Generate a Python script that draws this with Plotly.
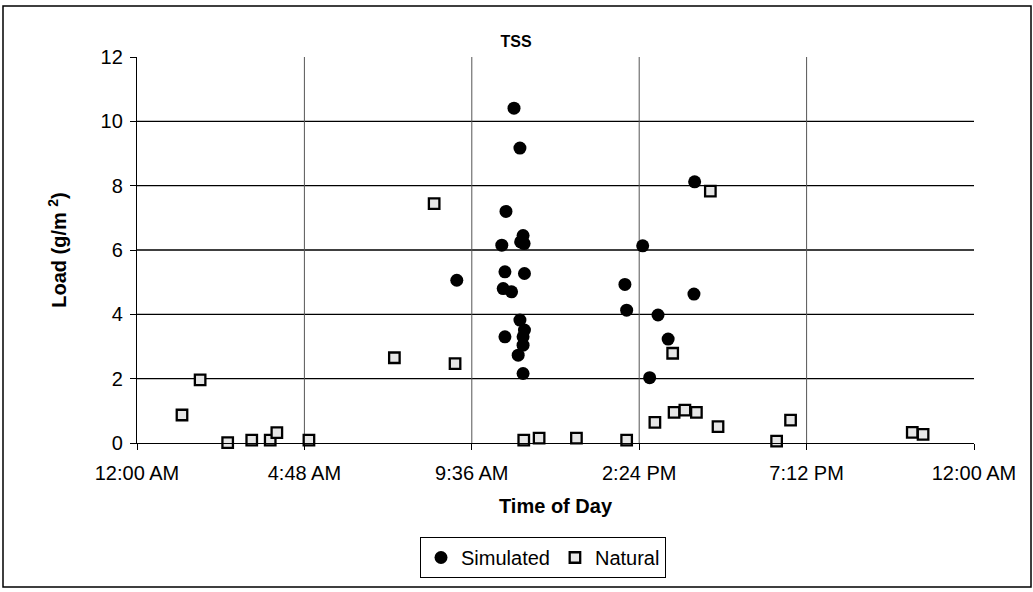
import plotly.graph_objects as go

# Time of day in decimal hours, load in g/m^2
sim_hours = [9.17, 10.81, 10.98, 10.58, 10.46, 11.00, 11.07, 11.10, 10.55, 11.11,
             10.50, 10.74, 10.98, 11.11, 11.07, 10.55, 11.07, 10.93, 11.07,
             13.99, 14.04, 14.50, 14.70, 14.94, 15.23, 15.97, 15.99]
sim_load = [5.06, 10.41, 9.17, 7.20, 6.15, 6.25, 6.45, 6.20, 5.32, 5.27,
            4.80, 4.70, 3.82, 3.51, 3.30, 3.30, 3.04, 2.73, 2.16,
            4.93, 4.13, 6.13, 2.03, 3.98, 3.23, 4.63, 8.12]

nat_hours = [1.29, 1.81, 2.60, 3.29, 3.82, 4.01, 4.93, 7.38, 8.52, 9.12,
             11.09, 11.53, 12.60, 14.04, 14.85, 15.36, 15.40, 15.71, 16.04,
             16.44, 16.66, 18.34, 18.74, 22.23, 22.54]
nat_load = [0.87, 1.96, 0.01, 0.09, 0.09, 0.32, 0.09, 2.65, 7.44, 2.47,
            0.09, 0.15, 0.15, 0.09, 0.64, 2.79, 0.95, 1.02, 0.95,
            7.83, 0.51, 0.06, 0.71, 0.33, 0.27]

x_tickvals = [0, 4.8, 9.6, 14.4, 19.2, 24]
x_ticktext = ["12:00 AM", "4:48 AM", "9:36 AM", "2:24 PM", "7:12 PM", "12:00 AM"]
y_tickvals = [0, 2, 4, 6, 8, 10, 12]

FONT = "Liberation Sans, Arial, sans-serif"

fig = go.Figure()
fig.add_trace(go.Scatter(
    x=sim_hours, y=sim_load, mode="markers", name="Simulated",
    marker=dict(symbol="circle", size=13, color="black", line=dict(width=0)),
    cliponaxis=False,
))
fig.add_trace(go.Scatter(
    x=nat_hours, y=nat_load, mode="markers", name="Natural",
    marker=dict(symbol="square", size=10.5, color="#e6e6e6",
                line=dict(color="black", width=2.3)),
    cliponaxis=False,
))

shapes = []
# horizontal gridlines (not at 0 or 12)
for yv in y_tickvals[1:-1]:
    shapes.append(dict(type="line", xref="x", yref="y", x0=0, x1=24, y0=yv, y1=yv,
                       line=dict(color="black", width=1.3), layer="below"))
# vertical gridlines (not at 0 or 24)
for xv in x_tickvals[1:-1]:
    shapes.append(dict(type="line", xref="x", yref="y", x0=xv, x1=xv, y0=0, y1=12,
                       line=dict(color="#555555", width=1), layer="below"))
# outer chart frame (plot area: 137..974 x, 57..443 y)
pw, ph = 837, 386
shapes.append(dict(type="rect", xref="paper", yref="paper",
                   x0=(3 - 137) / pw, x1=(1031 - 137) / pw,
                   y0=(443 - 587) / ph, y1=(443 - 6) / ph,
                   line=dict(color="black", width=1.5), layer="below"))

fig.update_layout(
    width=1033, height=592,
    margin=dict(l=137, r=59, t=57, b=149),
    paper_bgcolor="white", plot_bgcolor="white",
    font=dict(family=FONT, size=20, color="black"),
    title=dict(text="<b>TSS</b>", x=(516 - 137) / pw, xref="paper", xanchor="center",
               y=1 - 41 / 592, yanchor="middle", font=dict(size=16, family=FONT)),
    showlegend=True,
    legend=dict(orientation="h", x=(543 - 137) / pw, xanchor="center",
                y=(443 - 537) / ph, yanchor="top",
                bordercolor="black", borderwidth=1, bgcolor="white",
                font=dict(size=20, family=FONT), itemwidth=30,
                tracegroupgap=0),
    shapes=shapes,
)

fig.update_xaxes(
    range=[0, 24], tickvals=x_tickvals, ticktext=x_ticktext,
    showgrid=False, zeroline=False, showline=True, linecolor="black", linewidth=1.3,
    ticks="outside", ticklen=6, tickcolor="black", tickwidth=1.3,
    ticklabelstandoff=6,
    tickfont=dict(size=20, family=FONT),
    title=dict(text="<b>Time of Day</b>", font=dict(size=20, family=FONT), standoff=15),
)
fig.update_yaxes(
    range=[0, 12], tickvals=y_tickvals,
    showgrid=False, zeroline=False, showline=True, linecolor="black", linewidth=1.3,
    ticks="outside", ticklen=6, tickcolor="black", tickwidth=1.3,
    ticklabelstandoff=3,
    tickfont=dict(size=20, family=FONT),
    title=dict(text="<b>Load (g/m <sup>2</sup>)</b>", font=dict(size=20, family=FONT), standoff=28),
)

fig.write_html("out.html", config={"displayModeBar": False},
               post_script="document.body.style.margin='0';")
